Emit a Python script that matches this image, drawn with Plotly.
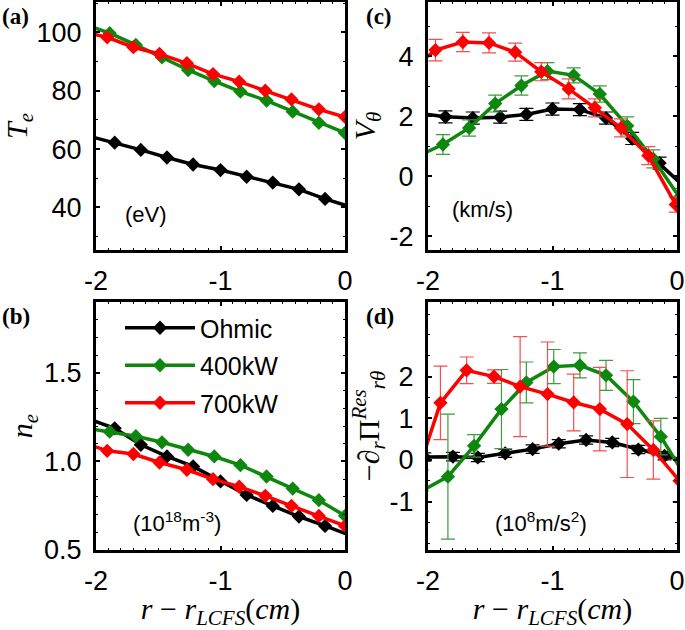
import plotly.graph_objects as go

# ---------------- data ----------------
series_names = ["Ohmic", "400kW", "700kW"]
series_colors = ["#000000", "#0d870d", "#ff0000"]
err_colors = ["#000000", "#3c9c3c", "#f05050"]

# (a) electron temperature, (b) density  -- probe positions (cm)
x_ohm_ab = [-2.07, -1.85, -1.64, -1.43, -1.22, -1.00, -0.79, -0.58, -0.37, -0.16, 0.06]
x_400_ab = [-2.10, -1.89, -1.68, -1.47, -1.26, -1.05, -0.84, -0.63, -0.42, -0.21, 0.00]
x_700_ab = [-2.12, -1.91, -1.70, -1.49, -1.27, -1.06, -0.85, -0.64, -0.43, -0.21, 0.00]

te_ohm = [64.6, 62.2, 59.7, 57.1, 54.7, 52.8, 50.5, 48.5, 46.2, 42.9, 40.0]
te_400 = [102.9, 99.7, 95.7, 91.4, 87.1, 83.3, 79.7, 76.6, 72.8, 69.0, 65.5]
te_700 = [100.4, 98.3, 94.9, 92.6, 89.4, 85.7, 83.1, 80.0, 77.0, 73.6, 71.0]

ne_ohm = [1.243, 1.187, 1.094, 1.028, 0.972, 0.887, 0.811, 0.749, 0.689, 0.636, 0.578]
ne_400 = [1.190, 1.168, 1.142, 1.108, 1.066, 1.028, 0.979, 0.915, 0.847, 0.781, 0.693]
ne_700 = [1.110, 1.060, 1.042, 0.994, 0.953, 0.900, 0.857, 0.806, 0.749, 0.692, 0.636]

# (c) poloidal velocity
x_ohm_c = [-2.07, -1.86, -1.64, -1.42, -1.21, -1.00, -0.78, -0.57, -0.36, -0.14, 0.07]
v_ohm = [2.10, 1.98, 1.94, 1.97, 2.06, 2.24, 2.22, 1.94, 1.26, 0.44, -0.39]
v_ohm_err = [0.20, 0.20, 0.20, 0.20, 0.20, 0.20, 0.20, 0.20, 0.20, 0.20, 0.20]

x_400_c = [-2.09, -1.88, -1.67, -1.46, -1.25, -1.04, -0.83, -0.62, -0.40, -0.19, 0.02]
v_400 = [0.66, 1.06, 1.61, 2.42, 3.02, 3.50, 3.36, 2.74, 1.68, 0.58, -0.70]
v_400_err = [0.30, 0.33, 0.27, 0.28, 0.32, 0.28, 0.25, 0.27, 0.30, 0.30, 0.30]

x_700_c = [-2.15, -1.94, -1.72, -1.51, -1.30, -1.09, -0.87, -0.66, -0.45, -0.23, -0.01, 0.19]
v_700 = [3.50, 4.20, 4.47, 4.44, 4.13, 3.48, 2.91, 2.28, 1.61, 0.69, -0.94, -3.40]
v_700_err = [0.35, 0.36, 0.32, 0.33, 0.30, 0.30, 0.33, 0.30, 0.30, 0.30, 0.25, 0.30]

# (d) residual stress gradient
x_ohm_d = [-2.03, -1.80, -1.60, -1.38, -1.16, -0.95, -0.73, -0.52, -0.31, -0.10, 0.11]
p_ohm = [0.07, 0.08, 0.06, 0.16, 0.26, 0.39, 0.48, 0.42, 0.25, 0.10, -0.05]
p_ohm_err = [0.10, 0.10, 0.10, 0.10, 0.10, 0.10, 0.10, 0.10, 0.10, 0.10, 0.10]

x_400_d = [-2.05, -1.84, -1.63, -1.41, -1.21, -0.99, -0.78, -0.57, -0.35, -0.13, 0.08]
p_400 = [-0.74, -0.40, 0.34, 1.22, 1.86, 2.24, 2.27, 2.03, 1.40, 0.56, -0.46]
p_400_err = [0.50, 1.50, 0.27, 0.95, 0.49, 0.41, 0.30, 0.36, 0.53, 0.44, 0.40]

x_700_d = [-2.11, -1.90, -1.69, -1.47, -1.26, -1.04, -0.83, -0.62, -0.40, -0.19, 0.02]
p_700 = [-0.55, 1.37, 2.15, 2.00, 1.76, 1.58, 1.38, 1.22, 0.86, 0.24, -0.50]
p_700_err = [0.80, 0.88, 0.32, 0.16, 1.20, 1.25, 0.68, 1.00, 1.28, 0.70, 0.50]

x_ticks = [-2, -1, 0]
x_tick_text = ["-2", "-1", "0"]

# ---------------- figure ----------------
W, H = 685, 630
fig = go.Figure()

panels = {
    "a": dict(xa="x", ya="y",
              xs=[x_ohm_ab, x_400_ab, x_700_ab], ys=[te_ohm, te_400, te_700], es=None),
    "c": dict(xa="x2", ya="y2",
              xs=[x_ohm_c, x_400_c, x_700_c], ys=[v_ohm, v_400, v_700],
              es=[v_ohm_err, v_400_err, v_700_err]),
    "b": dict(xa="x3", ya="y3",
              xs=[x_ohm_ab, x_400_ab, x_700_ab], ys=[ne_ohm, ne_400, ne_700], es=None),
    "d": dict(xa="x4", ya="y4",
              xs=[x_ohm_d, x_400_d, x_700_d], ys=[p_ohm, p_400, p_700],
              es=[p_ohm_err, p_400_err, p_700_err]),
}

for key, p in panels.items():
    for i in range(3):
        tr = dict(
            x=p["xs"][i], y=p["ys"][i], xaxis=p["xa"], yaxis=p["ya"],
            mode="lines+markers", name=series_names[i],
            line=dict(color=series_colors[i], width=3.5),
            marker=dict(symbol="diamond", size=11, color=series_colors[i]),
            showlegend=(key == "b"), legendgroup=series_names[i],
        )
        if p["es"] is not None:
            tr["error_y"] = dict(type="data", array=p["es"][i], color=err_colors[i],
                                 thickness=1.2, width=7)
        fig.add_trace(go.Scatter(**tr))

def px_x(a, b):
    return [a / W, b / W]

def px_y(top, bottom):
    return [1 - bottom / H, 1 - top / H]

tick_font = dict(family="Liberation Sans, Arial, sans-serif", size=27, color="black")
title_font = dict(family="Liberation Serif, Times New Roman, serif", size=30, color="black")

def xaxis(domain, anchor, title=None):
    d = dict(domain=domain, anchor=anchor, range=[-2, 0], tickvals=x_ticks, ticktext=x_tick_text,
             showline=True, linewidth=3, linecolor="black", mirror="ticks", automargin=False,
             ticks="inside", ticklen=4, tickwidth=1.5, tickcolor="black",
             minor=dict(ticks="inside", ticklen=2, dtick=0.1, tickcolor="black", tickwidth=1),
             showgrid=False, zeroline=False, tickfont=tick_font, ticklabelstandoff=5)
    if title:
        d["title"] = dict(text=title, font=title_font, standoff=9)
    return d

def yaxis(domain, anchor, rng, vals, texts, title, standoff):
    return dict(domain=domain, anchor=anchor, range=rng, tickvals=vals, ticktext=texts,
                showline=True, linewidth=3, linecolor="black", mirror="ticks", automargin=False,
                ticks="inside", ticklen=4, tickwidth=1.5, tickcolor="black",
                minor=dict(ticks="inside", ticklen=2, tickcolor="black", tickwidth=1, nticks=3),
                showgrid=False, zeroline=False, tickfont=tick_font, ticklabelstandoff=6,
                title=dict(text=title, font=title_font, standoff=standoff))

xl, xr = px_x(96, 345), px_x(428, 677)
yt, yb = px_y(2, 250), px_y(302, 550)

xtitle = "<i>r</i> − <i>r</i><sub><i>LCFS</i></sub>(<i>cm</i>)"

fig.update_layout(
    width=W, height=H, autosize=False,
    margin=dict(l=0, r=0, t=0, b=0),
    paper_bgcolor="white", plot_bgcolor="white",
    xaxis=xaxis(xl, "y"),
    yaxis=yaxis(yt, "x", [25.4, 110.4], [40, 60, 80, 100], ["40", "60", "80", "100"],
                "<i>T<sub>e</sub></i>", 5),
    xaxis2=xaxis(xr, "y2"),
    yaxis2=yaxis(yt, "x2", [-2.45, 5.8], [-2, 0, 2, 4], ["-2", "0", "2", "4"],
                 "<i>V<sub>θ</sub></i>", 6),
    xaxis3=xaxis(xl, "y3", xtitle),
    yaxis3=yaxis(yb, "x3", [0.5, 1.9], [0.5, 1.0, 1.5], ["0.5", "1.0", "1.5"],
                 "<i>n<sub>e</sub></i>", 3),
    xaxis4=xaxis(xr, "y4", xtitle),
    yaxis4=yaxis(yb, "x4", [-2.16, 3.79], [-1, 0, 1, 2], ["-1", "0", "1", "2"],
                 "−∂<sub><i>r</i></sub>Π<sup><i>Res</i></sup><sub><i>rθ</i></sub>", 2),
    legend=dict(x=120 / W, y=1 - 305 / H, xanchor="left", yanchor="top",
                bgcolor="rgba(0,0,0,0)", borderwidth=0, itemwidth=70,
                font=dict(family="Liberation Sans, Arial, sans-serif", size=25, color="black"),
                tracegroupgap=2),
)

label_font = dict(family="Liberation Serif, Times New Roman, serif", size=23, color="black")
unit_font = dict(family="Liberation Sans, Arial, sans-serif", size=22, color="black")

annotations = [
    dict(text="<b>(a)</b>", x=0 / W, y=1 - 2 / H, xanchor="left", yanchor="top", font=label_font),
    dict(text="<b>(c)</b>", x=364 / W, y=1 - 2 / H, xanchor="left", yanchor="top", font=label_font),
    dict(text="<b>(b)</b>", x=0 / W, y=1 - 302 / H, xanchor="left", yanchor="top", font=label_font),
    dict(text="<b>(d)</b>", x=364 / W, y=1 - 302 / H, xanchor="left", yanchor="top", font=label_font),
    dict(text="(eV)", x=146 / W, y=1 - 214 / H, xanchor="center", yanchor="middle", font=unit_font),
    dict(text="(km/s)", x=482 / W, y=1 - 210 / H, xanchor="center", yanchor="middle", font=unit_font),
    dict(text="(10<sup>18</sup>m<sup>-3</sup>)", x=177 / W, y=1 - 522 / H, xanchor="center",
         yanchor="middle", font=unit_font),
    dict(text="(10<sup>8</sup>m/s<sup>2</sup>)", x=541 / W, y=1 - 522 / H, xanchor="center",
         yanchor="middle", font=unit_font),
]
for a in annotations:
    a.update(xref="paper", yref="paper", showarrow=False)
fig.update_layout(annotations=annotations)

fig.write_html("out.html", config={"displayModeBar": False},
               post_script="document.body.style.margin='0';document.body.style.overflow='hidden';")
